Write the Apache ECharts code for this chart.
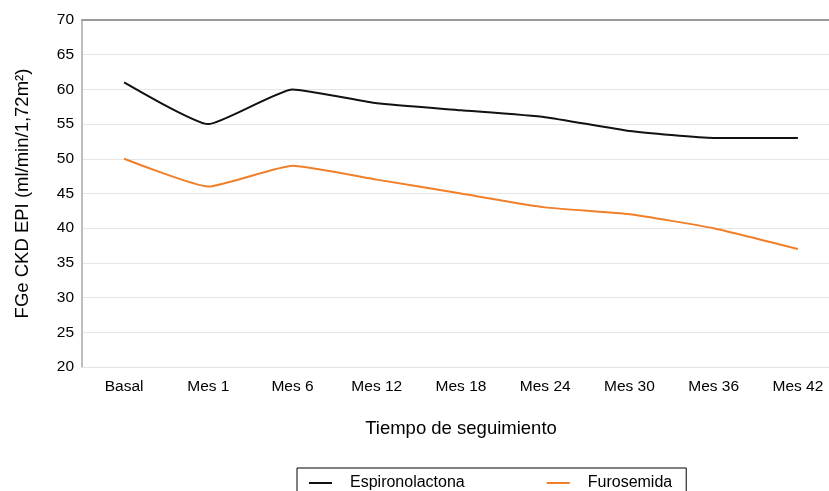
<!DOCTYPE html>
<html>
<head>
<meta charset="utf-8">
<script src="https://cdn.jsdelivr.net/npm/echarts@6/dist/echarts.min.js"></script>
<style>html,body{margin:0;padding:0;background:#fff}#c{width:829px;height:491px}</style>
</head>
<body>
<div id="c"></div>
<script>
const categories = ['Basal','Mes 1','Mes 6','Mes 12','Mes 18','Mes 24','Mes 30','Mes 36','Mes 42'];
const espironolactona = [61,55,60,58,57,56,54,53,53];
const furosemida = [50,46,49,47,45,43,42,40,37];
const yTicks = [20,25,30,35,40,45,50,55,60,65,70];

const chart = echarts.init(document.getElementById('c'), null, {renderer:'canvas'});
const font = 'Liberation Sans, Arial, Helvetica, sans-serif';
chart.setOption({
  animation:false,
  backgroundColor:'#fff',
  textStyle:{fontFamily:font},
  grid:{left:82, top:20, width:758, height:347, containLabel:false, outerBoundsMode:'none'},
  legend:{
    left:297, top:468,
    padding:[7,14,10,12],
    borderColor:'#000', borderWidth:1,
    itemGap:82,
    itemWidth:23, itemHeight:2, icon:'rect',
    textStyle:{fontFamily:font, fontSize:16, color:'#000', padding:[0,0,0,13]},
    data:['Espironolactona','Furosemida']
  },
  xAxis:[{
    type:'category', data:categories, boundaryGap:true,
    axisLine:{show:true, lineStyle:{color:'#e3e3e3', width:1}},
    axisTick:{show:false},
    axisLabel:{color:'#000', fontSize:15.5, margin:12, fontFamily:font},
    name:'Tiempo de seguimiento', nameLocation:'middle', nameGap:52,
    nameTextStyle:{color:'#000', fontSize:18.5, fontFamily:font}
  },{
    type:'category', data:categories, position:'top',
    axisLine:{show:true, lineStyle:{color:'#9a9a9a', width:2}},
    axisTick:{show:false}, axisLabel:{show:false}
  }],
  yAxis:{
    type:'value', min:20, max:70, interval:5,
    axisLine:{show:true, lineStyle:{color:'#aaaaaa', width:1.5}},
    axisTick:{show:false},
    axisLabel:{color:'#000', fontSize:15.5, margin:8, fontFamily:font,
      formatter:v=>yTicks.includes(v)?String(v):''},
    splitLine:{show:true, lineStyle:{color:'#e6e6e6', width:1}},
    name:'FGe CKD EPI (ml/min/1,72m²)', nameLocation:'middle', nameGap:50, nameRotate:90,
    nameTextStyle:{color:'#000', fontSize:18.5, fontFamily:font}
  },
  series:[{
    name:'Espironolactona', type:'line', data:espironolactona,
    smooth:0.15, showSymbol:false, symbol:'none',
    lineStyle:{color:'#111', width:2}, itemStyle:{color:'#111'}
  },{
    name:'Furosemida', type:'line', data:furosemida,
    smooth:0.15, showSymbol:false, symbol:'none',
    lineStyle:{color:'#f07f2a', width:2}, itemStyle:{color:'#f07f2a'}
  }]
});
</script>
</body>
</html>
